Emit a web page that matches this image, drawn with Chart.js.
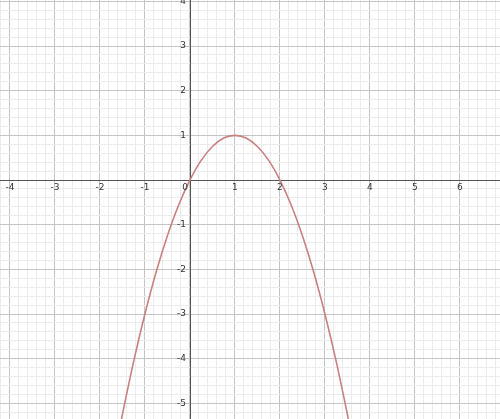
<!DOCTYPE html>
<html>
<head>
<meta charset="utf-8">
<script src="https://cdn.jsdelivr.net/npm/chart.js@4"></script>
<style>
  html, body { margin: 0; padding: 0; background: #fff; }
  #wrap { width: 500px; height: 419px; position: relative; }
</style>
</head>
<body>
<div id="wrap"><canvas id="c"></canvas></div>
<script>
// points
const xs = [-1.6, -1.5, -1.25, -1, -0.75, -0.5, -0.25, 0, 0.25, 0.5, 0.75, 1, 1.25, 1.5, 1.75, 2, 2.25, 2.5, 2.75, 3, 3.25, 3.5, 3.6];
const ys = [-5.76, -5.25, -4.06, -3, -2.06, -1.25, -0.56, 0, 0.44, 0.75, 0.94, 1, 0.94, 0.75, 0.44, 0, -0.56, -1.25, -2.06, -3, -4.06, -5.25, -5.76];

const xRange = [-4.22, 6.89];
const yRange = [-5.35, 4.03];

const isWhole = v => Math.abs(v - Math.round(v)) < 1e-6;

function gridColor(ctx) {
  const v = ctx.tick ? ctx.tick.value : 1;
  return isWhole(v) ? '#c4c4c4' : '#ececec';
}

// axis lines + numbers next to them, inside the plot like desmos does it
const axisLabels = {
  id: 'axisLabels',
  beforeDatasetsDraw(chart) {
    const c = chart.ctx, a = chart.chartArea;
    const x0 = Math.round(chart.scales.x.getPixelForValue(0)) + 0.5;
    const y0 = Math.round(chart.scales.y.getPixelForValue(0)) + 0.5;
    c.save();
    c.strokeStyle = '#555';
    c.lineWidth = 1;
    c.beginPath();
    c.moveTo(a.left, y0); c.lineTo(a.right, y0);
    c.moveTo(x0, a.top); c.lineTo(x0, a.bottom);
    c.stroke();
    c.restore();
  },
  afterDraw(chart) {
    const c = chart.ctx;
    const sx = chart.scales.x, sy = chart.scales.y;
    const x0 = sx.getPixelForValue(0), y0 = sy.getPixelForValue(0);
    c.save();
    c.font = '9px "DejaVu Sans"';
    c.fillStyle = '#333';
    c.textAlign = 'center';
    c.textBaseline = 'top';
    sx.ticks.forEach(t => {
      if (!isWhole(t.value) || Math.round(t.value) === 0) return;
      c.fillText(String(Math.round(t.value)), sx.getPixelForValue(t.value), y0 + 3);
    });
    c.textAlign = 'right';
    c.textBaseline = 'middle';
    sy.ticks.forEach(t => {
      if (!isWhole(t.value) || Math.round(t.value) === 0) return;
      c.fillText(String(Math.round(t.value)), x0 - 4, sy.getPixelForValue(t.value));
    });
    c.textBaseline = 'top';
    c.fillText('0', x0 - 2, y0 + 3);
    c.restore();
  }
};

const ctx = document.getElementById('c');
new Chart(ctx, {
  type: 'scatter',
  data: {
    datasets: [{
      data: xs.map((x, i) => ({ x: x, y: ys[i] })),
      showLine: true,
      borderColor: '#c98080',
      borderWidth: 1.6,
      pointRadius: 0,
      tension: 0.35
    }]
  },
  options: {
    responsive: true,
    maintainAspectRatio: false,
    animation: false,
    layout: { padding: 0 },
    plugins: { legend: { display: false }, tooltip: { enabled: false } },
    scales: {
      x: {
        type: 'linear',
        min: xRange[0],
        max: xRange[1],
        grid: { color: gridColor, drawTicks: false },
        border: { display: false },
        ticks: { display: false, stepSize: 0.2, includeBounds: false, autoSkip: false }
      },
      y: {
        type: 'linear',
        min: yRange[0],
        max: yRange[1],
        grid: { color: gridColor, drawTicks: false },
        border: { display: false },
        ticks: { display: false, stepSize: 0.2, includeBounds: false, autoSkip: false }
      }
    }
  },
  plugins: [axisLabels]
});
</script>
</body>
</html>
